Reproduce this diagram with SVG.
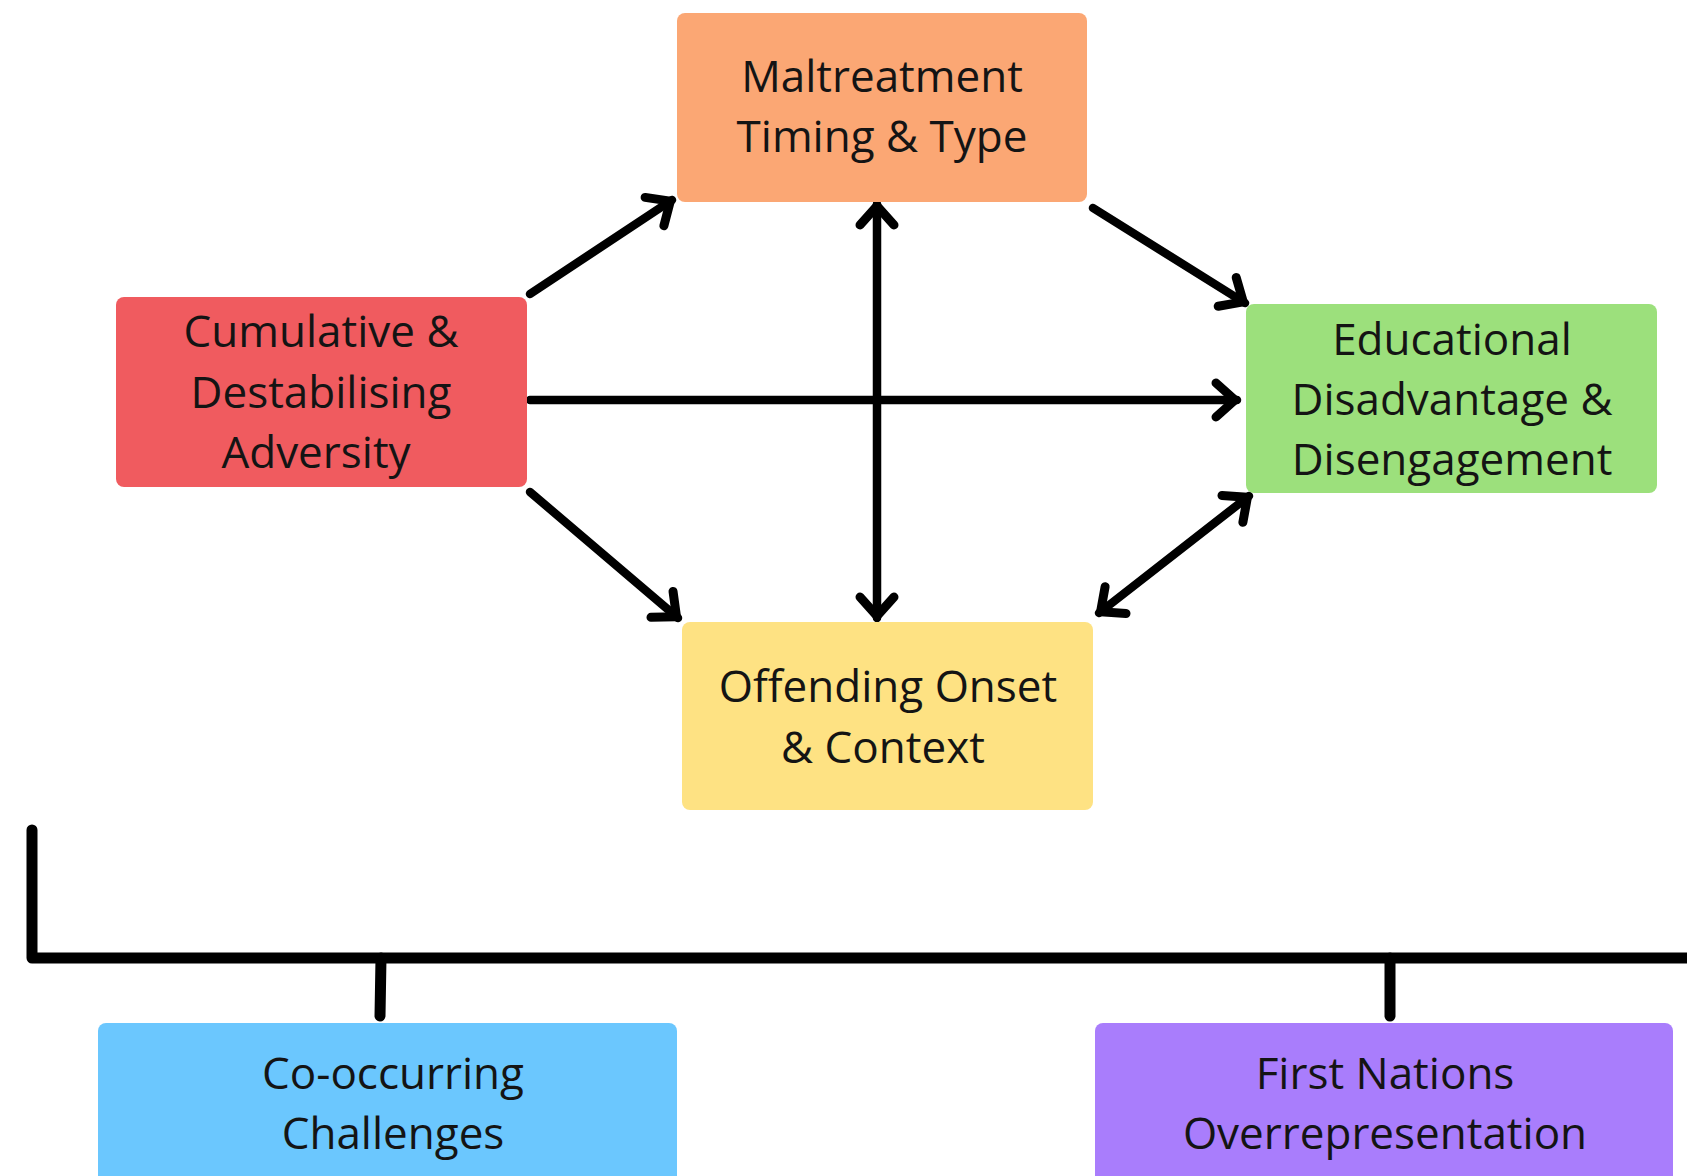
<svg xmlns="http://www.w3.org/2000/svg" width="1687" height="1176" viewBox="0 0 1687 1176">
<defs>
<style>
.box{stroke:none}
.lbl{font-family:"Open Sans","Noto Sans","Liberation Sans",sans-serif;font-size:44px;fill:#141414;text-anchor:middle}
.conn{stroke:#000;stroke-width:8.5;fill:none;stroke-linecap:round;stroke-linejoin:round}
.brk{stroke:#000;stroke-width:11;fill:none;stroke-linecap:round;stroke-linejoin:round}
</style>
<marker id="ah" viewBox="-30 -25 40 50" refX="0" refY="0" markerWidth="40" markerHeight="50" markerUnits="userSpaceOnUse" orient="auto-start-reverse" overflow="visible">
<path d="M -21 -17 L -2 0 L -21 17" fill="none" stroke="#000" stroke-width="9" stroke-linecap="round" stroke-linejoin="round"/>
</marker>
</defs>
<rect width="1687" height="1176" fill="#ffffff"/>
<g id="connectors">
<line class="conn" x1="530" y1="294" x2="672" y2="200" marker-end="url(#ah)"/>
<line class="conn" x1="1093" y1="208" x2="1245" y2="303" marker-end="url(#ah)"/>
<line class="conn" x1="877" y1="204" x2="877" y2="618" marker-start="url(#ah)" marker-end="url(#ah)"/>
<line class="conn" x1="530" y1="400" x2="1237" y2="400" marker-end="url(#ah)"/>
<line class="conn" x1="530" y1="492" x2="678" y2="618" marker-end="url(#ah)"/>
<line class="conn" x1="1249" y1="496" x2="1099" y2="613" marker-start="url(#ah)" marker-end="url(#ah)"/>
<path class="brk" d="M 32 830 L 32 958 L 1700 958"/>
<line class="brk" x1="381" y1="958" x2="380" y2="1016"/>
<line class="brk" x1="1390" y1="958" x2="1390" y2="1016"/>
</g>
<g id="maltreatment">
<rect class="box" x="677" y="13" width="410" height="189" rx="8" fill="#FBA774"/>
<text class="lbl" x="882" y="92">Maltreatment</text>
<text class="lbl" x="882" y="152">Timing &amp; Type</text>
</g>
<g id="cumulative">
<rect class="box" x="116" y="297" width="411" height="190" rx="8" fill="#F05B5F"/>
<text class="lbl" x="321" y="347">Cumulative &amp;</text>
<text class="lbl" x="321" y="408">Destabilising</text>
<text class="lbl" x="316" y="468">Adversity</text>
</g>
<g id="educational">
<rect class="box" x="1246" y="304" width="411" height="189" rx="8" fill="#9CE07C"/>
<text class="lbl" x="1452" y="355">Educational</text>
<text class="lbl" x="1452" y="415">Disadvantage &amp;</text>
<text class="lbl" x="1452" y="475">Disengagement</text>
</g>
<g id="offending">
<rect class="box" x="682" y="622" width="411" height="188" rx="8" fill="#FEE283"/>
<text class="lbl" x="888" y="702">Offending Onset</text>
<text class="lbl" x="883" y="763">&amp; Context</text>
</g>
<g id="cooccurring">
<rect class="box" x="98" y="1023" width="579" height="170" rx="8" fill="#6BC7FE"/>
<text class="lbl" x="393" y="1089">Co-occurring</text>
<text class="lbl" x="393" y="1149">Challenges</text>
</g>
<g id="firstnations">
<rect class="box" x="1095" y="1023" width="578" height="170" rx="8" fill="#A97DFC"/>
<text class="lbl" x="1385" y="1089">First Nations</text>
<text class="lbl" x="1385" y="1149">Overrepresentation</text>
</g>
</svg>
